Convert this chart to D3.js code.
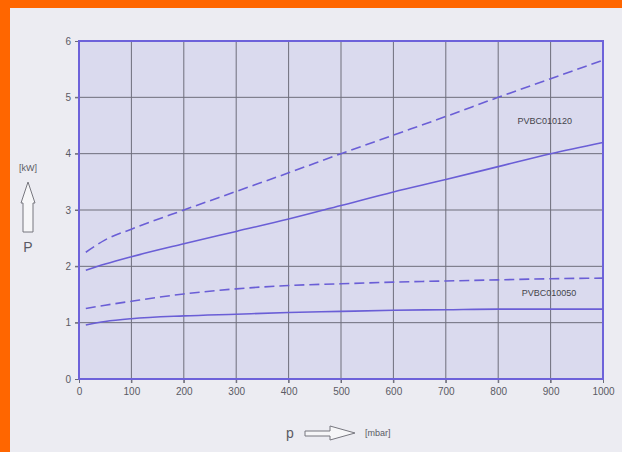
<!DOCTYPE html>
<html>
<head>
<meta charset="utf-8">
<script src="https://cdn.jsdelivr.net/npm/d3@7"></script>
<style>
  html, body { margin: 0; padding: 0; background: #ff6600; }
  svg { display: block; }
</style>
</head>
<body>
<svg id="chart" width="622" height="452"></svg>
<script>
// Pressure in mbar (x) and power in kW (y)
const pressure = [13, 50, 100, 200, 300, 400, 500, 600, 700, 800, 900, 1000];
const big_max = [2.25, 2.47, 2.66, 3.0, 3.33, 3.66, 4.0, 4.33, 4.66, 5.0, 5.33, 5.66];
const big_nom = [1.93, 2.04, 2.17, 2.4, 2.62, 2.84, 3.08, 3.32, 3.54, 3.77, 4.0, 4.2];
const small_max = [1.25, 1.31, 1.38, 1.51, 1.6, 1.66, 1.69, 1.72, 1.74, 1.76, 1.78, 1.79];
const small_nom = [0.96, 1.02, 1.07, 1.12, 1.15, 1.18, 1.2, 1.22, 1.23, 1.24, 1.24, 1.24];

const xTicks = [0, 100, 200, 300, 400, 500, 600, 700, 800, 900, 1000];
const yTicks = [0, 1, 2, 3, 4, 5, 6];

const series = [
  { values: big_max, dashed: true },
  { values: big_nom, dashed: false },
  { values: small_max, dashed: true },
  { values: small_nom, dashed: false },
];
const labels = [
  { text: "PVBC010120", x: 889, y: 4.58 },
  { text: "PVBC010050", x: 897, y: 1.53 },
];

const svg = d3.select("#chart");
const lineBlue = "#6a5ed6";
const font = "'Liberation Sans', Arial, sans-serif";

// paper area (orange frame only on top and left)
svg.append("rect")
  .attr("x", 10).attr("y", 8)
  .attr("width", 612).attr("height", 444)
  .attr("fill", "#ececf2");

const mLeft = 79, mRight = 603, mTop = 41, mBottom = 379;
const x = d3.scaleLinear().domain([0, 1000]).range([mLeft, mRight]);
const y = d3.scaleLinear().domain([0, 6]).range([mBottom, mTop]);

// plot background
svg.append("rect")
  .attr("x", mLeft).attr("y", mTop)
  .attr("width", mRight - mLeft).attr("height", mBottom - mTop)
  .attr("fill", "#dadaee");

// grid
const grid = svg.append("g").attr("stroke", "#5c5c68").attr("stroke-width", 1).attr("opacity", 0.85);
grid.selectAll("line.v")
  .data(xTicks.slice(1, -1))
  .join("line")
  .attr("x1", (d) => x(d)).attr("x2", (d) => x(d))
  .attr("y1", mTop).attr("y2", mBottom + 4);
grid.selectAll("line.h")
  .data(yTicks.slice(1, -1))
  .join("line")
  .attr("x1", mLeft - 4).attr("x2", mRight)
  .attr("y1", (d) => y(d)).attr("y2", (d) => y(d));

// axes (ticks + labels)
const yAxis = svg.append("g")
  .attr("transform", `translate(${mLeft},0)`)
  .call(d3.axisLeft(y).tickValues(yTicks).tickFormat(d3.format("d")).tickSize(4).tickPadding(4));
const xAxis = svg.append("g")
  .attr("transform", `translate(0,${mBottom})`)
  .call(d3.axisBottom(x).tickValues(xTicks).tickFormat(d3.format("d")).tickSize(4).tickPadding(5));
[xAxis, yAxis].forEach((g) => {
  g.select(".domain").remove();
  g.selectAll(".tick line").attr("stroke", "#6c6c78");
  g.selectAll("text").attr("fill", "#5a5a64").attr("font-family", font).attr("font-size", 10);
});

// blue frame
svg.append("rect")
  .attr("x", mLeft).attr("y", mTop)
  .attr("width", mRight - mLeft).attr("height", mBottom - mTop)
  .attr("fill", "none")
  .attr("stroke", "#6d62da")
  .attr("stroke-width", 2);

// curves
const line = d3.line()
  .x((d, i) => x(pressure[i]))
  .y((d) => y(d))
  .curve(d3.curveMonotoneX);

svg.append("g")
  .selectAll("path")
  .data(series)
  .join("path")
  .attr("d", (d) => line(d.values))
  .attr("fill", "none")
  .attr("stroke", lineBlue)
  .attr("stroke-width", 1.6)
  .attr("stroke-dasharray", (d) => (d.dashed ? "10,5" : null));

// curve labels
svg.append("g")
  .selectAll("text")
  .data(labels)
  .join("text")
  .attr("x", (d) => x(d.x))
  .attr("y", (d) => y(d.y))
  .attr("dy", "0.35em")
  .attr("text-anchor", "middle")
  .attr("font-family", font)
  .attr("font-size", 9)
  .attr("fill", "#44444c")
  .text((d) => d.text);

// y axis title with hollow up arrow
const yt = svg.append("g");
yt.append("text")
  .attr("x", 28).attr("y", 171)
  .attr("text-anchor", "middle")
  .attr("font-family", font).attr("font-size", 9)
  .attr("fill", "#5a5a64")
  .text("[kW]");
yt.append("path")
  .attr("d", "M28,182 L35,203 L33,203 L33,232 L23,232 L23,203 L21,203 Z")
  .attr("fill", "#f6f6f8")
  .attr("stroke", "#77777f")
  .attr("stroke-width", 1);
yt.append("text")
  .attr("x", 28).attr("y", 252)
  .attr("text-anchor", "middle")
  .attr("font-family", font).attr("font-size", 14)
  .attr("fill", "#5a5a64")
  .text("P");

// x axis title with hollow right arrow
const xt = svg.append("g");
xt.append("text")
  .attr("x", 290).attr("y", 438)
  .attr("text-anchor", "middle")
  .attr("font-family", font).attr("font-size", 14)
  .attr("fill", "#5a5a64")
  .text("p");
xt.append("path")
  .attr("d", "M305,431 L330,431 L330,426 L355,433 L330,440 L330,436 L305,436 Z")
  .attr("fill", "#f6f6f8")
  .attr("stroke", "#77777f")
  .attr("stroke-width", 1);
xt.append("text")
  .attr("x", 365).attr("y", 436)
  .attr("font-family", font).attr("font-size", 9)
  .attr("fill", "#5a5a64")
  .text("[mbar]");
</script>
</body>
</html>
